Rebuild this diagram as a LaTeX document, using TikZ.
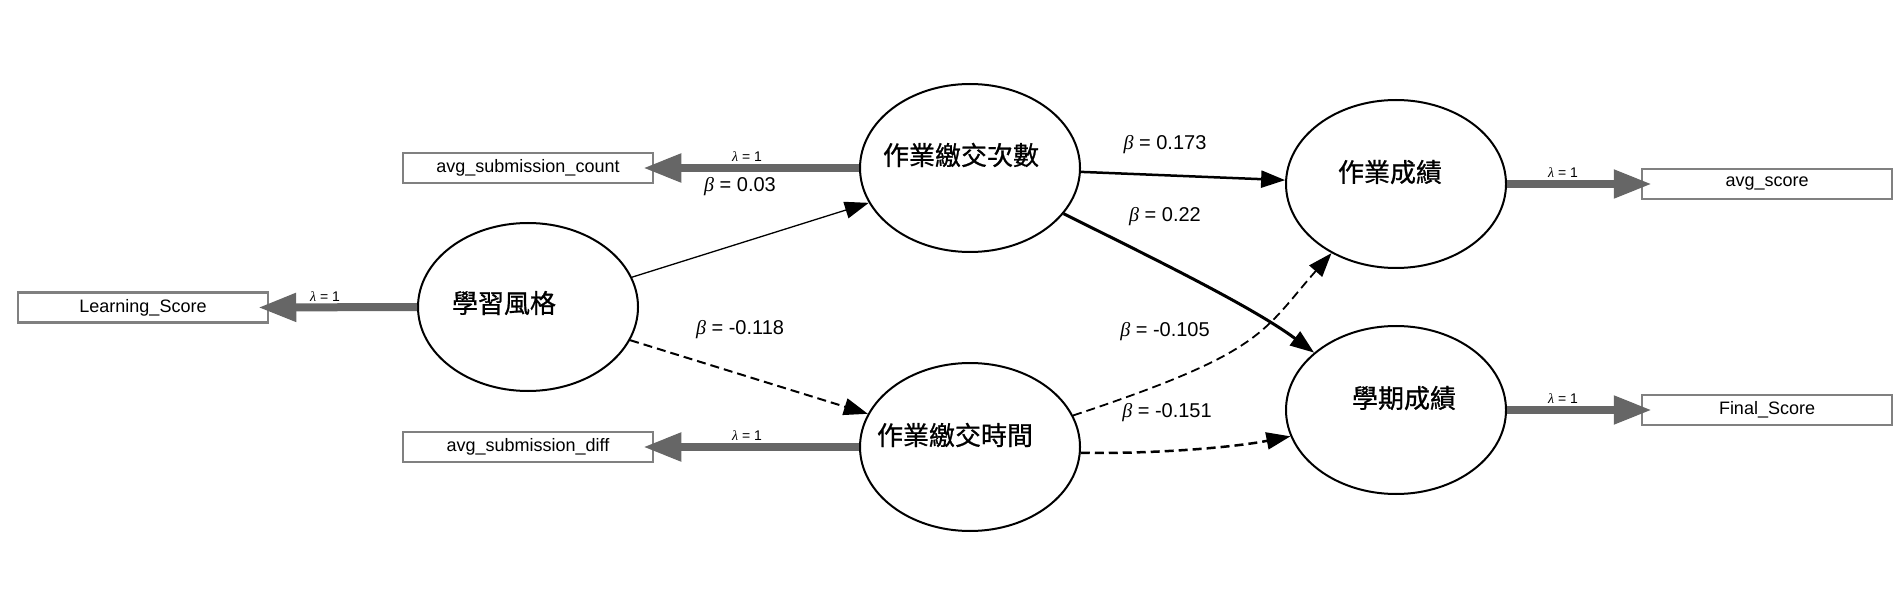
\documentclass[tikz,border=0pt]{standalone}
\usepackage{fontspec}
\setmainfont{Liberation Sans}
\newfontfamily\cjk{Noto Sans CJK TC}[BoldFont={Noto Sans CJK TC},BoldFeatures={FakeBold=0.9}]
\newfontfamily\grkfont{Liberation Serif}
\usetikzlibrary{shapes.geometric,arrows.meta}
\definecolor{shaft}{RGB}{102,102,102}
\definecolor{boxline}{RGB}{128,128,128}
\tikzset{
 lat/.style={draw=black, line width=2pt, ellipse, minimum width=220pt, minimum height=168pt, inner sep=0pt, fill=white},
 obs/.style={draw=boxline, line width=2.5pt, rectangle, minimum width=250pt, minimum height=30pt, inner sep=0pt, fill=white, font=\fontsize{18}{20}\selectfont},
 lattext/.style={font=\cjk\bfseries\fontsize{26}{30}\selectfont, inner sep=0pt},
 load/.style={draw=shaft, line width=8pt, -{Triangle[length=38pt,width=27pt]}},
 lam/.style={font=\fontsize{14}{16}\selectfont, inner sep=0pt},
 bet/.style={font=\fontsize{20}{24}\selectfont, inner sep=0pt},
 pth/.style={draw=black, -{Triangle[length=24pt,width=17pt]}},
 dsh/.style={dash pattern=on 9pt off 5pt},
}
\newcommand{\gb}{{\grkfont\itshape β}}
\newcommand{\gl}{{\grkfont\itshape λ}}
\begin{document}
\begin{tikzpicture}[x=1pt,y=-1pt]
\useasboundingbox (0,0) rectangle (1902,601);
% latent variables
\node[lat] (ls)  at (528,307) {};
\node[lat] (cnt) at (970,168) {};
\node[lat] (tm)  at (970,447) {};
\node[lat] (hw)  at (1396,184) {};
\node[lat] (sem) at (1396,410) {};
\node[lattext] (lsT)  at (504,303) {學習風格};
\node[lattext] (cntT) at (961,155) {作業繳交次數};
\node[lattext] (tmT)  at (955,435) {作業繳交時間};
\node[lattext] (hwT)  at (1390,172) {作業成績};
\node[lattext] (semT) at (1404,398) {學期成績};
% observed variables
\node[obs] (lsB)  at (143,307.5) {Learning\_Score};
\node[obs] (cntB) at (528,168) {avg\_submission\_count};
\node[obs] (tmB)  at (528,447) {avg\_submission\_diff};
\node[obs] (hwB)  at (1767,184) {avg\_score};
\node[obs] (semB) at (1767,410) {Final\_Score};
% loadings
\draw[load] (ls.west) -- ([xshift=-11pt]lsB.east);
\draw[load] (cnt.west) -- ([xshift=-11pt]cntB.east);
\draw[load] (tm.west) -- ([xshift=-11pt]tmB.east);
\draw[load] (hw.east) -- ([xshift=11pt]hwB.west);
\draw[load] (sem.east) -- ([xshift=11pt]semB.west);
\node[lam] (l1) at (325,297) {\gl{} = 1};
\node[lam] (l2) at (747,157) {\gl{} = 1};
\node[lam] (l3) at (747,436) {\gl{} = 1};
\node[lam] (l4) at (1563,173) {\gl{} = 1};
\node[lam] (l5) at (1563,399) {\gl{} = 1};
% structural paths
\draw[pth, line width=1.3pt] (ls.16) -- (cnt.199);
\draw[pth, dsh, line width=2pt] (ls.-18) -- (tm.162);
\draw[pth, line width=2.5pt] (cnt.-2) -- (hw.178);
\draw[pth, line width=3pt] (cnt.-26) .. controls (1140,252) and (1250,305) .. (sem.145);
\draw[pth, dsh, line width=1.8pt] (tm.17) .. controls (1265,352) and (1262,332) .. (hw.227);
\draw[pth, dsh, line width=2.5pt] (tm.-3) .. controls (1150,454) and (1230,448) .. (sem.194);
\node[bet] (b1) at (740,187) {\gb{} = 0.03};
\node[bet] (b2) at (740,330) {\gb{} = -0.118};
\node[bet] (b3) at (1165,145) {\gb{} = 0.173};
\node[bet] (b4) at (1165,217) {\gb{} = 0.22};
\node[bet] (b5) at (1165,332) {\gb{} = -0.105};
\node[bet] (b6) at (1167,413) {\gb{} = -0.151};
\end{tikzpicture}
\end{document}
